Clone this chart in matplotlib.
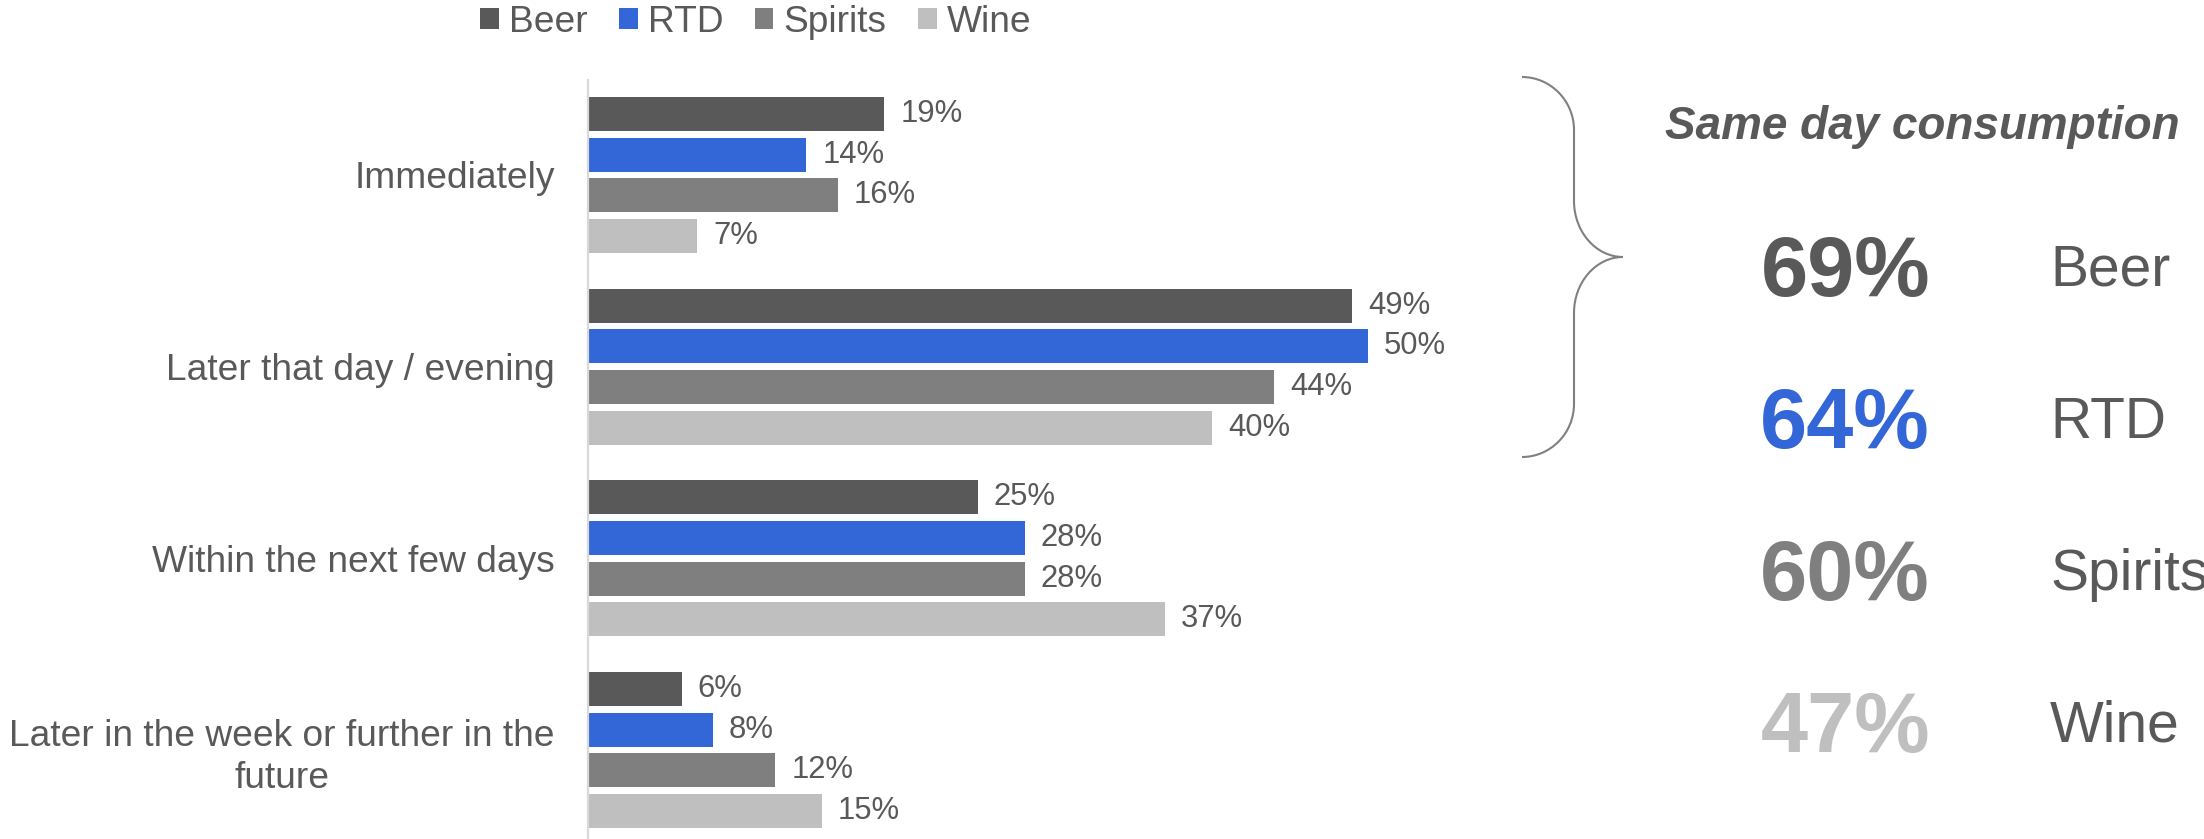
import matplotlib
matplotlib.use("Agg")
import matplotlib.pyplot as plt
from matplotlib.path import Path
from matplotlib.patches import PathPatch

plt.rcParams['font.family'] = ['Liberation Sans', 'DejaVu Sans']

# data
categories = ["Immediately", "Later that day / evening", "Within the next few days",
              "Later in the week or further in the\nfuture"]
series = ["Beer", "RTD", "Spirits", "Wine"]
beer = [19, 49, 25, 6]
rtd = [14, 50, 28, 8]
spirits = [16, 44, 28, 12]
wine = [7, 40, 37, 15]
same_day = [69, 64, 60, 47]

colors = ["#595959", "#3366d6", "#7f7f7f", "#bfbfbf"]
text_col = "#595959"

W, H = 2204, 839
fig = plt.figure(figsize=(W / 100, H / 100), dpi=100)

# main bar axes (pixel layout: spine at x=588, top at y=80)
px_per_pct = 15.6
ax = fig.add_axes([588 / W, 0, 60 * px_per_pct / W, (H - 80) / H])
ax.set_xlim(0, 60)
unit = 191.7  # px per group
ax.set_ylim((H - 175) / unit, -(175 - 80) / unit)

offsets = [-61 / unit, -20.3 / unit, 20.3 / unit, 61 / unit]
bar_h = 34 / unit
handles = []
for vals, name, col, off in zip([beer, rtd, spirits, wine], series, colors, offsets):
    ys = [i + off for i in range(len(categories))]
    bc = ax.barh(ys, vals, height=bar_h, color=col, label=name)
    ax.bar_label(bc, labels=[f"{v}%" for v in vals], padding=11.5,
                 fontsize=22.3, color=text_col)
    handles.append(bc)

ax.set_yticks(range(len(categories)))
ax.set_yticklabels(categories, fontsize=26.7, color=text_col)
for lbl in ax.get_yticklabels():
    lbl.set_multialignment('center')
    lbl.set_linespacing(1.27)
ax.tick_params(axis='y', length=0, pad=23.8)
ax.set_xticks([])
for s in ['top', 'right', 'bottom']:
    ax.spines[s].set_visible(False)
ax.spines['left'].set_color('#d9d9d9')
ax.spines['left'].set_linewidth(1.6)

fig.legend(handles=handles, labels=series, loc='center', ncol=4,
           bbox_to_anchor=(756 / W, 1 - 22 / H), frameon=False,
           fontsize=26.7, handlelength=0.5, handleheight=0.5,
           handletextpad=0.28, columnspacing=0.84, borderpad=0,
           labelcolor=text_col)

# overlay in pixel coordinates for the right-hand summary
ov = fig.add_axes([0, 0, 1, 1])
ov.set_xlim(0, W)
ov.set_ylim(H, 0)
ov.axis('off')
ov.patch.set_alpha(0)

# curly brace
xl, xs, xt = 1522, 1574, 1623
yt, yb, ym = 77, 457, 257
k = 0.55
verts = [
    (xl, yt), (xl + k * (xs - xl), yt), (xs, yt + 53 - k * 53), (xs, yt + 53),
    (xs, ym - 56),
    (xs, ym - 56 + k * 56), (xt - k * (xt - xs), ym), (xt, ym),
    (xt - k * (xt - xs), ym), (xs, ym + 56 - k * 56), (xs, ym + 56),
    (xs, yb - 53),
    (xs, yb - 53 + k * 53), (xl + k * (xs - xl), yb), (xl, yb),
]
codes = [Path.MOVETO, Path.CURVE4, Path.CURVE4, Path.CURVE4,
         Path.LINETO,
         Path.CURVE4, Path.CURVE4, Path.CURVE4,
         Path.CURVE4, Path.CURVE4, Path.CURVE4,
         Path.LINETO,
         Path.CURVE4, Path.CURVE4, Path.CURVE4]
ov.add_patch(PathPatch(Path(verts, codes), fill=False, edgecolor='#808080', lw=1.5))

ov.text(1922, 139, "Same day consumption", ha='center', va='baseline',
        fontsize=33, fontweight='bold', fontstyle='italic', color=text_col)

num_base = [296, 448, 600, 752]
name_base = [286, 438, 590, 742]
for v, name, col, yb_n, yb_t in zip(same_day, series, colors, num_base, name_base):
    ov.text(1930, yb_n, f"{v}%", ha='right', va='baseline', fontsize=61,
            fontweight='bold', color=col)
    ov.text(2050, yb_t, name, ha='left', va='baseline', fontsize=41, color=text_col)

fig.savefig("out.png", dpi=100)
